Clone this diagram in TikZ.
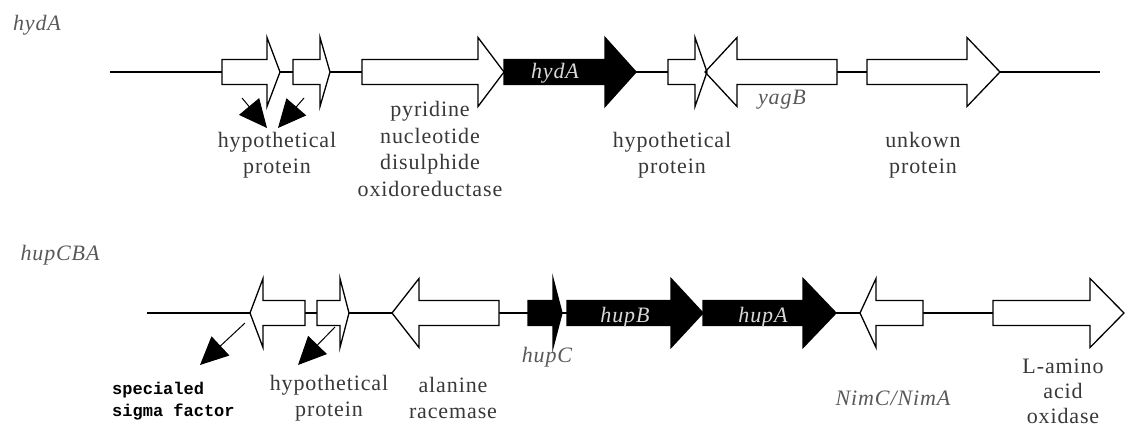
\documentclass[tikz,border=0pt]{standalone}
\usepackage{fontspec}
\setmainfont{Liberation Serif}
\newfontfamily\monofont{Liberation Mono}
\usetikzlibrary{arrows.meta}
\newcommand{\genepath}[4]{(#1,{#4-12.5}) -- (#2,{#4-12.5}) -- (#2,{#4-34.5}) -- (#3,#4) -- (#2,{#4+34.5}) -- (#2,{#4+12.5}) -- (#1,{#4+12.5}) -- cycle}
\newcommand{\gene}[5]{\draw[#1] \genepath{#2}{#3}{#4}{#5};}
\tikzset{
  backbone/.style={line width=1.3pt},
  wgene/.style={draw=black, fill=white, line width=1.3pt, line join=miter},
  bgene/.style={draw=black, fill=black, line width=1.3pt, line join=miter},
  lbl/.style={font=\fontsize{22}{26.5}\selectfont\addfontfeature{LetterSpace=4}, text=black!78, align=center, inner sep=0pt},
  gname/.style={font=\fontsize{22}{26.5}\selectfont\itshape\addfontfeature{LetterSpace=4}, text=black!65, inner sep=0pt},
  wname/.style={font=\fontsize{22}{26.5}\selectfont\itshape\addfontfeature{LetterSpace=4}, text=black!15, inner sep=0pt},
  monolbl/.style={font=\monofont\bfseries\fontsize{17}{22}\selectfont, text=black, align=left, inner sep=0pt, anchor=west},
  ptr/.style={line width=1pt, -{Triangle[length=28pt,width=26pt]}}
}
\begin{document}
\begin{tikzpicture}[x=1pt,y=-1pt]
\useasboundingbox (0,0) rectangle (1126,428);
% ---------- top row: hydA ----------
\node[gname] (titleA) at (37,25) {hydA};
\draw[backbone] (110,72) -- (1100,72);
\gene{wgene}{222}{267}{280}{72}
\gene{wgene}{293}{320}{330}{72}
\gene{wgene}{362}{478}{504}{72}
\gene{bgene}{504}{605}{636}{72}
\fill[white] \genepath{837}{737}{705}{72};
\fill[white] \genepath{668}{695}{707}{72};
\draw[wgene, fill=none] \genepath{837}{737}{705}{72};
\draw[wgene, fill=none] \genepath{668}{695}{707}{72};
\gene{wgene}{867}{967}{1000}{72}
\node[wname] (hydA) at (555,73) {hydA};
\node[gname] (yagB) at (782,100) {yagB};
\node[lbl] (hyp1) at (277,155) {hypothetical\\protein};
\node[lbl] (pyr) at (430,149) {pyridine\\nucleotide\\disulphide\\oxidoreductase};
\node[lbl] (hyp2) at (672,155) {hypothetical\\protein};
\node[lbl] (unk) at (923,155) {unkown\\protein};
\coordinate (a1s) at (242,98);
\coordinate (a1e) at (267,128);
\coordinate (a2s) at (304,98);
\coordinate (a2e) at (278,128);
\draw[ptr] (a1s) -- (a1e);
\draw[ptr] (a2s) -- (a2e);
% ---------- bottom row: hupCBA ----------
\node[gname] (titleB) at (60,255) {hupCBA};
\draw[backbone] (147,313) -- (1124,313);
\gene{wgene}{305}{263}{250}{313}
\gene{wgene}{317}{340}{349}{313}
\gene{wgene}{499}{419}{392}{313}
\gene{bgene}{528}{553}{562}{313}
\gene{bgene}{567}{671}{703}{313}
\gene{bgene}{703}{803}{836}{313}
\gene{wgene}{923}{876}{860}{313}
\gene{wgene}{993}{1090}{1124}{313}
\node[wname] (hupB) at (625,317) {hupB};
\node[wname] (hupA) at (763,317) {hupA};
\node[gname] (hupC) at (547,357) {hupC};
\node[gname] (nim) at (893,398) {NimC/NimA};
\node[monolbl] (sigma) at (112,401) {specialed\\sigma factor};
\node[lbl] (hyp3) at (329,398) {hypothetical\\protein};
\node[lbl] (ala) at (453,398) {alanine\\racemase};
\node[lbl, font=\fontsize{22}{25}\selectfont\addfontfeature{LetterSpace=4}] (lamino) at (1063,391) {L-amino\\acid\\oxidase};
\coordinate (b1s) at (245,323);
\coordinate (b1e) at (200,365);
\coordinate (b2s) at (335,327);
\coordinate (b2e) at (298,365);
\draw[ptr] (b1s) -- (b1e);
\draw[ptr] (b2s) -- (b2e);
\end{tikzpicture}
\end{document}
